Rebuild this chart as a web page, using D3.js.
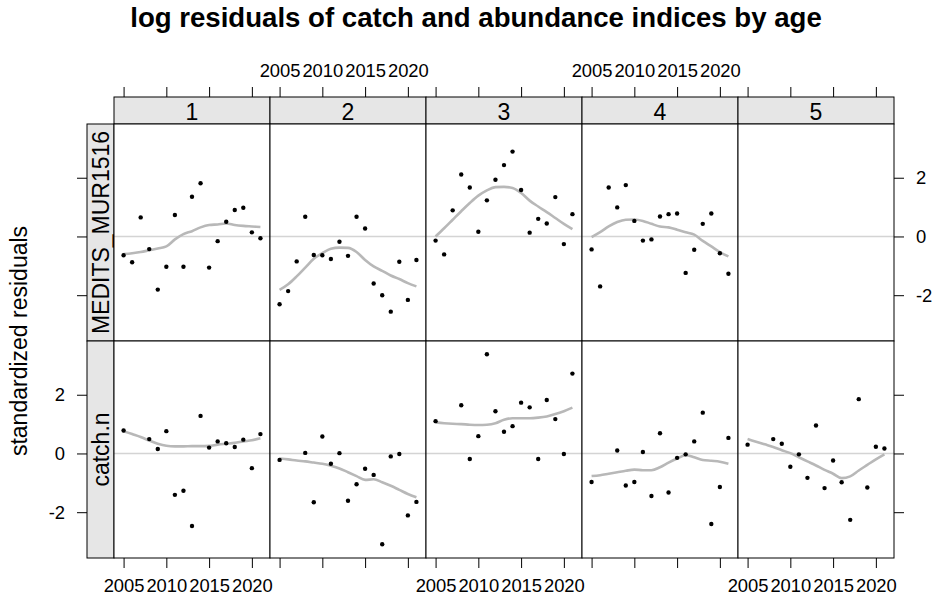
<!DOCTYPE html>
<html>
<head>
<meta charset="utf-8">
<script src="https://cdn.jsdelivr.net/npm/d3@7"></script>
<style>
  html, body { margin: 0; padding: 0; background: #fff; }
  svg { display: block; font-family: "Liberation Sans", Arial, sans-serif; }
</style>
</head>
<body>
<svg id="chart" width="933" height="598"></svg>
<script>
// ---------------- data ----------------
const ages = ["1", "2", "3", "4", "5"];
const rowLabels = ["MEDITS_MUR1516", "catch.n"];
const xTicks = [2005, 2010, 2015, 2020];
const yTicks = [-2, 0, 2];

const meditsYears = [2005,2006,2007,2008,2009,2010,2011,2012,2013,2014,2015,2016,2017,2018,2019,2020,2021];
const catchYears  = [2005,2008,2009,2010,2011,2012,2013,2014,2015,2016,2017,2018,2019,2020,2021];
const smoothYears = [2005,2006,2007,2008,2009,2010,2011,2012,2013,2014,2015,2016,2017,2018,2019,2020,2021];

// MEDITS_MUR1516 residuals by age
const meditsAge1 = [-0.64,-0.88,0.65,-0.43,-1.81,-1.03,0.73,-1.03,1.35,1.81,-1.06,-0.16,0.50,0.90,0.98,0.14,-0.06];
const meditsAge2 = [-2.31,-1.86,-0.85,0.67,-0.63,-0.64,-0.77,-0.18,-0.66,0.67,0.27,-1.60,-2.00,-2.56,-0.86,-2.16,-0.80];
const meditsAge3 = [-0.14,-0.61,0.89,2.11,1.67,0.16,1.23,1.93,2.43,2.89,1.58,0.13,0.60,0.44,1.34,-0.26,0.76];
const meditsAge4 = [-0.44,-1.70,1.67,0.99,1.75,0.53,-0.14,-0.10,0.68,0.76,0.78,-1.24,-0.45,0.43,0.78,-0.57,-1.27];
const meditsAge5 = [];

// catch.n residuals by age
const catchAge1 = [0.78,0.49,0.15,0.76,-1.41,-1.27,-2.47,1.28,0.20,0.41,0.35,0.22,0.47,-0.50,0.66];
const catchAge2 = [-0.22,0.02,-1.66,0.58,-0.35,0.01,-1.61,-1.05,-0.52,-0.73,-3.09,-0.10,-0.02,-2.11,-1.65];
const catchAge3 = [1.10,1.64,-0.19,0.59,3.38,1.44,0.74,0.93,1.73,1.57,-0.19,1.82,1.17,-0.02,2.72];
const catchAge4 = [-0.97,0.10,-1.09,-0.97,0.05,-1.45,0.69,-1.33,-0.15,-0.03,0.41,1.39,-2.40,-1.14,0.53];
const catchAge5 = [0.30,0.49,0.33,-0.45,-0.03,-0.83,0.95,-1.18,-0.24,-0.98,-2.26,1.85,-1.16,0.23,0.17];

// smoother (loess) curves
const smoothMedits1 = [-0.60,-0.57,-0.53,-0.47,-0.41,-0.34,-0.10,0.08,0.18,0.31,0.39,0.41,0.44,0.39,0.36,0.34,0.32];
const smoothMedits2 = [-1.82,-1.63,-1.36,-1.06,-0.76,-0.57,-0.42,-0.38,-0.39,-0.53,-0.80,-1.02,-1.17,-1.33,-1.45,-1.59,-1.70];
const smoothMedits3 = [0.00,0.28,0.57,0.86,1.14,1.39,1.57,1.68,1.69,1.65,1.48,1.22,1.02,0.83,0.63,0.43,0.25];
const smoothMedits4 = [-0.02,0.15,0.34,0.49,0.57,0.58,0.53,0.43,0.34,0.31,0.23,0.14,0.06,-0.15,-0.34,-0.53,-0.68];
const smoothMedits5 = [];
const smoothCatch1 = [0.76,0.66,0.56,0.44,0.33,0.26,0.24,0.24,0.25,0.25,0.26,0.30,0.33,0.36,0.41,0.45,0.52];
const smoothCatch2 = [-0.17,-0.20,-0.24,-0.27,-0.31,-0.35,-0.42,-0.51,-0.64,-0.77,-0.90,-0.88,-0.98,-1.10,-1.24,-1.38,-1.49];
const smoothCatch3 = [1.06,1.03,1.01,1.00,0.98,0.97,0.98,1.03,1.15,1.20,1.20,1.20,1.22,1.26,1.34,1.44,1.56];
const smoothCatch4 = [-0.77,-0.74,-0.69,-0.64,-0.59,-0.55,-0.57,-0.57,-0.47,-0.31,-0.17,-0.06,-0.13,-0.22,-0.25,-0.28,-0.35];
const smoothCatch5 = [0.49,0.40,0.31,0.22,0.11,0.01,-0.13,-0.27,-0.41,-0.56,-0.69,-0.84,-0.78,-0.58,-0.39,-0.20,-0.03];

const title = "log residuals of catch and abundance indices by age";
const yTitle = "standardized residuals";

// --------------- layout ---------------
const panelLeft = 114, panelW = 156;
const stripTop = 97, stripH = 27;
const panelTop = stripTop + stripH, panelH = 217;
const leftStripX = 87, leftStripW = panelLeft - leftStripX;
const tickFont = 18.4, stripFont = 23;

const panels = [
  { row: 0, vals: [meditsAge1, meditsAge2, meditsAge3, meditsAge4, meditsAge5], years: meditsYears,
    smooth: [smoothMedits1, smoothMedits2, smoothMedits3, smoothMedits4, smoothMedits5] },
  { row: 1, vals: [catchAge1, catchAge2, catchAge3, catchAge4, catchAge5], years: catchYears,
    smooth: [smoothCatch1, smoothCatch2, smoothCatch3, smoothCatch4, smoothCatch5] }
];

const svg = d3.select("#chart");

const x = d3.scaleLinear().domain([2003.88, 2022.12]).range([0, panelW]);
const y = d3.scaleLinear().domain([-3.56, 3.83]).range([panelH, 0]);

// title
svg.append("text")
  .attr("x", 476).attr("y", 27)
  .attr("text-anchor", "middle")
  .attr("font-weight", "bold")
  .attr("font-size", 27.6)
  .text(title);

// y axis title
svg.append("text")
  .attr("transform", `translate(27,${panelTop + panelH})rotate(-90)`)
  .attr("text-anchor", "middle")
  .attr("font-size", stripFont)
  .text(yTitle);

// top strips
ages.forEach((a, i) => {
  const g = svg.append("g").attr("transform", `translate(${panelLeft + i * panelW},${stripTop})`);
  g.append("rect").attr("width", panelW).attr("height", stripH)
    .attr("fill", "#e6e6e6").attr("stroke", "#000").attr("stroke-width", 1);
  g.append("text").attr("x", panelW / 2).attr("y", stripH - 4)
    .attr("text-anchor", "middle").attr("font-size", stripFont).text(a);
});

// rows
panels.forEach(p => {
  const top = panelTop + p.row * panelH;
  // left strip
  const ls = svg.append("g").attr("transform", `translate(${leftStripX},${top})`);
  ls.append("rect").attr("width", leftStripW).attr("height", panelH)
    .attr("fill", "#e6e6e6").attr("stroke", "#000").attr("stroke-width", 1);
  ls.append("text")
    .attr("transform", `translate(${leftStripW - 5.5},${panelH / 2})rotate(-90)`)
    .attr("text-anchor", "middle").attr("font-size", stripFont).text(rowLabels[p.row]);

  ages.forEach((a, i) => {
    const left = panelLeft + i * panelW;
    const g = svg.append("g").attr("transform", `translate(${left},${top})`);
    g.append("rect").attr("width", panelW).attr("height", panelH).attr("fill", "#fff");
    // zero reference
    g.append("line").attr("x1", 0).attr("x2", panelW).attr("y1", y(0)).attr("y2", y(0))
      .attr("stroke", "#d4d4d4").attr("stroke-width", 1.5);
    // smoother
    const sm = p.smooth[i];
    if (sm.length) {
      g.append("path")
        .datum(sm.map((v, k) => [smoothYears[k], v]))
        .attr("fill", "none").attr("stroke", "#b8b8b8").attr("stroke-width", 2.6)
        .attr("stroke-linejoin", "round")
        .attr("d", d3.line().x(d => x(d[0])).y(d => y(d[1])).curve(d3.curveMonotoneX));
    }
    // points
    g.selectAll("circle").data(p.vals[i].map((v, k) => [p.years[k], v])).join("circle")
      .attr("cx", d => x(d[0])).attr("cy", d => y(d[1])).attr("r", 2.2).attr("fill", "#000");
    g.append("rect").attr("width", panelW).attr("height", panelH)
      .attr("fill", "none").attr("stroke", "#000").attr("stroke-width", 1);
  });

  // left axis (ticks both rows, labels bottom row only)
  const la = svg.append("g").attr("transform", `translate(${leftStripX},${top})`)
    .call(d3.axisLeft(y).tickValues(yTicks).tickSize(10).tickPadding(12)
      .tickFormat(d => p.row === 1 ? String(d) : ""));
  // right axis (ticks both rows, labels top row only)
  const ra = svg.append("g").attr("transform", `translate(${panelLeft + 5 * panelW},${top})`)
    .call(d3.axisRight(y).tickValues(yTicks).tickSize(10).tickPadding(12)
      .tickFormat(d => p.row === 0 ? String(d) : ""));
  [la, ra].forEach(ax => {
    ax.select(".domain").remove();
    ax.selectAll("text").attr("font-size", tickFont).attr("font-family", null);
  });
});

// x axes: top labels on columns 2 and 4, bottom labels on 1, 3, 5
ages.forEach((a, i) => {
  const left = panelLeft + i * panelW;
  const ta = svg.append("g").attr("transform", `translate(${left},${stripTop})`)
    .call(d3.axisTop(x).tickValues(xTicks).tickSize(10).tickPadding(10)
      .tickFormat(d => (i % 2 === 1) ? String(d) : ""));
  const ba = svg.append("g").attr("transform", `translate(${left},${panelTop + 2 * panelH})`)
    .call(d3.axisBottom(x).tickValues(xTicks).tickSize(10).tickPadding(11)
      .tickFormat(d => (i % 2 === 0) ? String(d) : ""));
  [ta, ba].forEach(ax => {
    ax.select(".domain").remove();
    ax.selectAll("text").attr("font-size", tickFont).attr("font-family", null);
  });
});
</script>
</body>
</html>
